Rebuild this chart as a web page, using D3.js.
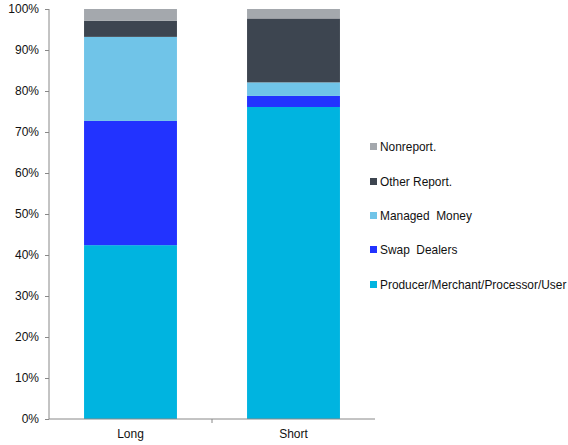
<!DOCTYPE html>
<html>
<head>
<meta charset="utf-8">
<script src="https://cdn.jsdelivr.net/npm/d3@7"></script>
<style>
  body { margin: 0; background: #fff; }
  text { font-family: "Liberation Sans", Arial, sans-serif; fill: #111; }
  .legend text { white-space: pre; }
</style>
</head>
<body>
<div id="chart"></div>
<script>
var categories = ["Long", "Short"];
var seriesNames = ["Producer/Merchant/Processor/User", "Swap  Dealers", "Managed  Money", "Other Report.", "Nonreport."];
var producer = [42.4, 76.1];
var swap = [30.3, 2.7];
var managed = [20.5, 3.3];
var otherRep = [3.9, 15.6];
var nonRep = [2.9, 2.3];
var colors = ["#00b4e0", "#2233ff", "#70c4e8", "#3d4550", "#a4a8ad"];
var yTicks = [0, 10, 20, 30, 40, 50, 60, 70, 80, 90, 100];

var width = 568, height = 445;
var margin = { top: 9, left: 49, bottom: 26 };
var plotWidth = 326;
var plotHeight = height - margin.top - margin.bottom;

var rows = categories.map((c, i) => ({
  cat: c,
  s0: producer[i], s1: swap[i], s2: managed[i], s3: otherRep[i], s4: nonRep[i]
}));
var keys = ["s0", "s1", "s2", "s3", "s4"];
var stacked = d3.stack().keys(keys)(rows);

var svg = d3.select("#chart").append("svg")
  .attr("width", width).attr("height", height);

var g = svg.append("g").attr("transform", `translate(${margin.left},${margin.top})`);

var xScale = d3.scaleBand().domain(categories).range([0, plotWidth]).paddingInner(0.43).paddingOuter(0.215);
var xBand = d3.scaleBand().domain(categories).range([0, plotWidth]);
var yScale = d3.scaleLinear().domain([0, 100]).range([plotHeight, 0]);

g.selectAll(".layer")
  .data(stacked)
  .enter().append("g")
  .attr("fill", (d, i) => colors[i])
  .selectAll("rect")
  .data(d => d)
  .enter().append("rect")
  .attr("x", d => xScale(d.data.cat))
  .attr("width", xScale.bandwidth())
  .attr("y", d => yScale(d[1]))
  .attr("height", d => yScale(d[0]) - yScale(d[1]));

var yAxis = d3.axisLeft(yScale).tickValues(yTicks).tickFormat(d => d + "%").tickSize(4).tickPadding(6);
var yG = g.append("g").call(yAxis);
yG.select(".domain").attr("stroke", "#888").attr("d", `M0,0V${plotHeight}`);
yG.selectAll(".tick line").attr("stroke", "#888");
yG.selectAll("text").attr("font-size", 12).attr("fill", "#111");

var xG = g.append("g").attr("transform", `translate(0,${plotHeight})`);
xG.append("line").attr("x1", 0).attr("x2", plotWidth).attr("stroke", "#888");
xG.append("line").attr("x1", xBand.step()).attr("x2", xBand.step()).attr("y1", 0).attr("y2", 4).attr("stroke", "#888");
xG.selectAll(".xlab")
  .data(categories)
  .enter().append("text")
  .attr("x", d => xBand(d) + xBand.bandwidth() / 2)
  .attr("y", 19)
  .attr("text-anchor", "middle")
  .attr("font-size", 12)
  .text(d => d);

var legend = svg.append("g").attr("class", "legend").attr("transform", "translate(369,0)");
var legendY = [285, 250, 216, 182, 147];
var items = legend.selectAll(".item")
  .data(seriesNames)
  .enter().append("g")
  .attr("transform", (d, i) => `translate(0,${legendY[i]})`);
items.append("rect").attr("x", 1).attr("y", -4).attr("width", 7).attr("height", 7).attr("fill", (d, i) => colors[i]);
items.append("text").attr("x", 11).attr("y", 4).attr("font-size", 11.9).text(d => d);
</script>
</body>
</html>
